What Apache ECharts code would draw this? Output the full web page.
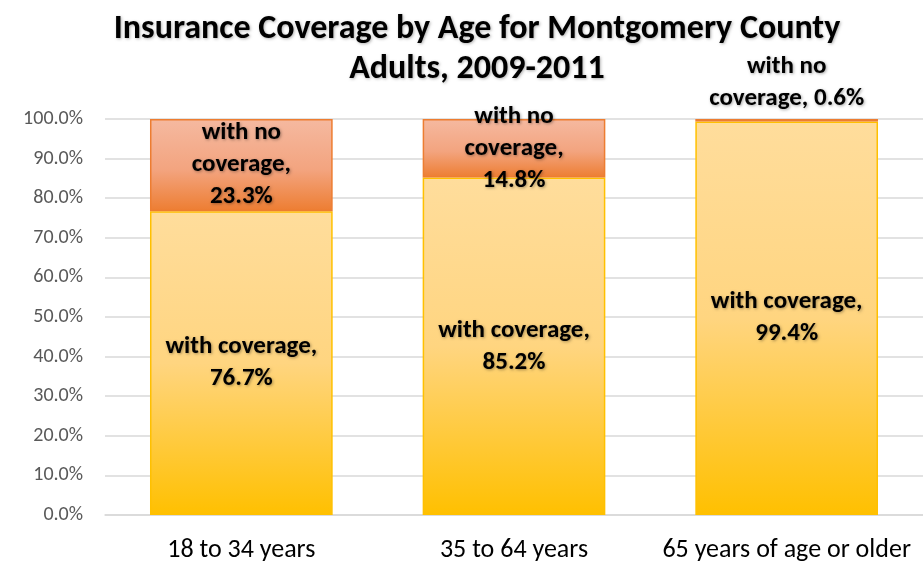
<!DOCTYPE html>
<html>
<head>
<meta charset="utf-8">
<script src="https://cdn.jsdelivr.net/npm/echarts@6/dist/echarts.min.js"></script>
<style>
  html, body { margin: 0; padding: 0; background: #fff; }
  #main { width: 923px; height: 563px; }
</style>
</head>
<body>
<div id="main"></div>
<script>
var chartDom = document.getElementById('main');
var myChart = echarts.init(chartDom);
var option;

// age groups on the x axis
var ageGroups = ['18 to 34 years', '35 to 64 years', '65 years of age or older'];
// share of adults, percent
var withCoverage = [76.7, 85.2, 99.4];
var noCoverage = [23.3, 14.8, 0.6];
var yTicks = [0, 10, 20, 30, 40, 50, 60, 70, 80, 90, 100];

var fontFam = 'Carlito, Lato, "Open Sans", sans-serif';

var labelBase = {
    show: true,
    color: '#000',
    fontFamily: fontFam,
    fontWeight: 'bold',
    fontSize: 25,
    lineHeight: 32,
    textShadowColor: 'rgba(0,0,0,0.35)',
    textShadowBlur: 3,
    textShadowOffsetX: 1,
    textShadowOffsetY: 1
};

option = {
    backgroundColor: '#fff',
    title: {
        text: 'Insurance Coverage by Age for Montgomery County\nAdults, 2009-2011',
        left: 472,
        top: 4,
        textAlign: 'center',
        textStyle: {
            fontFamily: fontFam,
            fontWeight: 'bold',
            fontSize: 34,
            lineHeight: 40,
            color: '#000',
            textShadowColor: 'rgba(0,0,0,0.3)',
            textShadowBlur: 3,
            textShadowOffsetX: 1,
            textShadowOffsetY: 1
        }
    },
    grid: {
        left: 105,
        right: 0,
        top: 119,
        bottom: 47
    },
    xAxis: {
        type: 'category',
        data: ageGroups,
        axisLine: { lineStyle: { color: '#d9d9d9', width: 1.5 } },
        axisTick: { show: false },
        axisLabel: {
            interval: 0,
            color: '#000',
            fontFamily: fontFam,
            fontSize: 26,
            margin: 22
        }
    },
    yAxis: {
        type: 'value',
        min: yTicks[0],
        max: yTicks[yTicks.length - 1],
        interval: 10,
        axisLine: { show: false },
        axisTick: { show: false },
        splitLine: { lineStyle: { color: '#d9d9d9', width: 1.5 } },
        axisLabel: {
            color: '#595959',
            fontFamily: fontFam,
            fontSize: 20,
            margin: 22,
            formatter: function (v) { return v.toFixed(1) + '%'; }
        }
    },
    series: [
        {
            name: 'with coverage',
            type: 'bar',
            stack: 'total',
            barWidth: '67%',
            data: withCoverage,
            itemStyle: {
                color: new echarts.graphic.LinearGradient(0, 0, 0, 1, [
                    { offset: 0, color: '#FFDD9C' },
                    { offset: 0.5, color: '#FFD580' },
                    { offset: 1, color: '#FFC000' }
                ]),
                borderColor: '#FFC000',
                borderWidth: 1.5
            },
            label: Object.assign({}, labelBase, {
                position: 'inside',
                formatter: function (p) { return 'with coverage,\n' + p.value.toFixed(1) + '%'; }
            })
        },
        {
            name: 'with no coverage',
            type: 'bar',
            stack: 'total',
            data: noCoverage.map(function (v, i) {
                if (v < 5) {
                    return {
                        value: v,
                        label: {
                            position: 'top',
                            distance: 4,
                            formatter: 'with no\ncoverage, ' + v.toFixed(1) + '%'
                        }
                    };
                }
                return v;
            }),
            itemStyle: {
                color: new echarts.graphic.LinearGradient(0, 0, 0, 1, [
                    { offset: 0, color: '#F5B9A0' },
                    { offset: 0.55, color: '#F3A47F' },
                    { offset: 1, color: '#ED7D31' }
                ]),
                borderColor: '#ED7D31',
                borderWidth: 1.5
            },
            label: Object.assign({}, labelBase, {
                position: 'inside',
                formatter: function (p) { return 'with no\ncoverage,\n' + p.value.toFixed(1) + '%'; }
            })
        }
    ]
};

option && myChart.setOption(option);
</script>
</body>
</html>
